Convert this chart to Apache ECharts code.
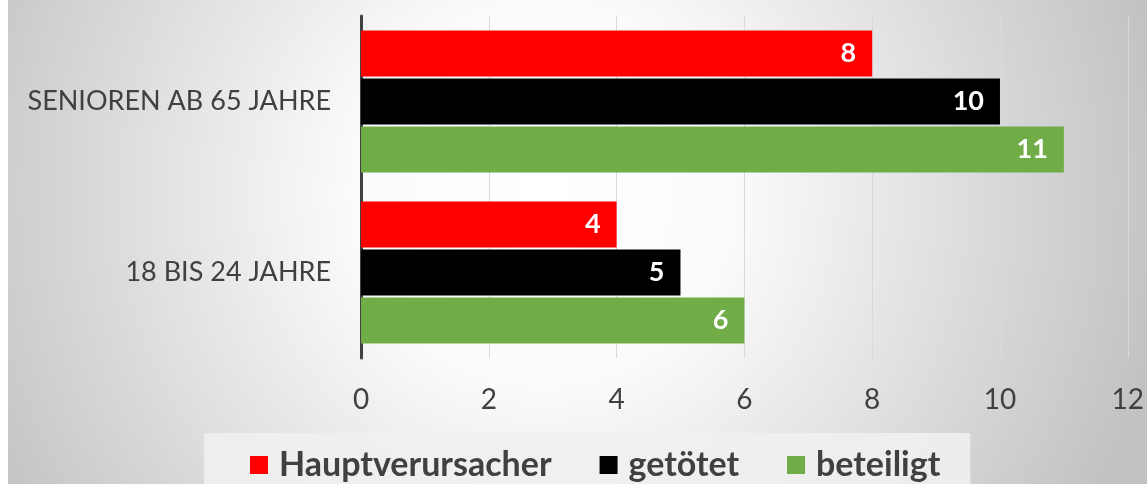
<!DOCTYPE html>
<html>
<head>
<meta charset="utf-8">
<script src="https://cdn.jsdelivr.net/npm/echarts@6/dist/echarts.min.js"></script>
<style>
  html, body { margin: 0; padding: 0; background: #fff; }
  #main { width: 1147px; height: 484px; }
</style>
</head>
<body>
<div id="main"></div>
<script>
// Altersgruppen (oben nach unten)
var categories = ["SENIOREN AB 65 JAHRE", "18 BIS 24 JAHRE"];
var hauptverursacher = [8, 4];
var getoetet = [10, 5];
var beteiligt = [11, 6];
var seriesNames = ["Hauptverursacher", "getötet", "beteiligt"];

var myChart = echarts.init(document.getElementById("main"));

var labelStyle = {
  show: true,
  position: "insideRight",
  distance: 16,
  color: "#fff",
  fontWeight: "bold",
  fontSize: 27,
  fontFamily: "Lato"
};

var option = {
  backgroundColor: "#fff",
  animation: false,
  textStyle: { fontFamily: "Lato" },
  graphic: [
    {
      type: "rect",
      silent: true,
      z: -10,
      shape: { x: 8, y: 0, width: 1139, height: 484 },
      style: {
        fill: {
          type: "radial",
          x: 0.47, y: 0.4, r: 1.3,
          colorStops: [
            { offset: 0, color: "#ffffff" },
            { offset: 0.3, color: "#fbfbfb" },
            { offset: 1, color: "#c2c2c2" }
          ]
        }
      }
    }
  ],
  grid: {
    left: 361,
    right: 19,
    top: 16,
    bottom: 126
  },
  legend: {
    data: seriesNames,
    left: 204,
    top: 433,
    padding: [15, 30, 20, 46],
    backgroundColor: "rgba(240,240,240,0.9)",
    itemWidth: 18,
    itemHeight: 18,
    itemGap: 48,
    icon: "rect",
    textStyle: {
      color: "#404040",
      fontSize: 34,
      fontWeight: "bold",
      fontFamily: "Lato",
      padding: [0, 0, 0, 6]
    }
  },
  xAxis: {
    type: "value",
    min: 0,
    max: 12,
    interval: 2,
    axisLine: { show: false },
    axisTick: { show: false },
    splitLine: { lineStyle: { color: "#d9d9d9", width: 1 } },
    axisLabel: {
      color: "#404040",
      fontSize: 28,
      margin: 28
    }
  },
  yAxis: {
    type: "category",
    inverse: true,
    data: categories,
    axisLine: { show: true, lineStyle: { color: "#404040", width: 3 } },
    axisTick: { show: false },
    axisLabel: {
      color: "#404040",
      fontSize: 27,
      margin: 30
    }
  },
  series: [
    {
      name: seriesNames[0],
      type: "bar",
      data: hauptverursacher,
      barGap: "4%",
      barCategoryGap: "17%",
      itemStyle: { color: "#ff0000" },
      label: labelStyle
    },
    {
      name: seriesNames[1],
      type: "bar",
      data: getoetet,
      barGap: "4%",
      barCategoryGap: "17%",
      itemStyle: { color: "#000000" },
      label: labelStyle
    },
    {
      name: seriesNames[2],
      type: "bar",
      data: beteiligt,
      barGap: "4%",
      barCategoryGap: "17%",
      itemStyle: { color: "#70ad47" },
      label: labelStyle
    }
  ]
};

myChart.setOption(option);
</script>
</body>
</html>
